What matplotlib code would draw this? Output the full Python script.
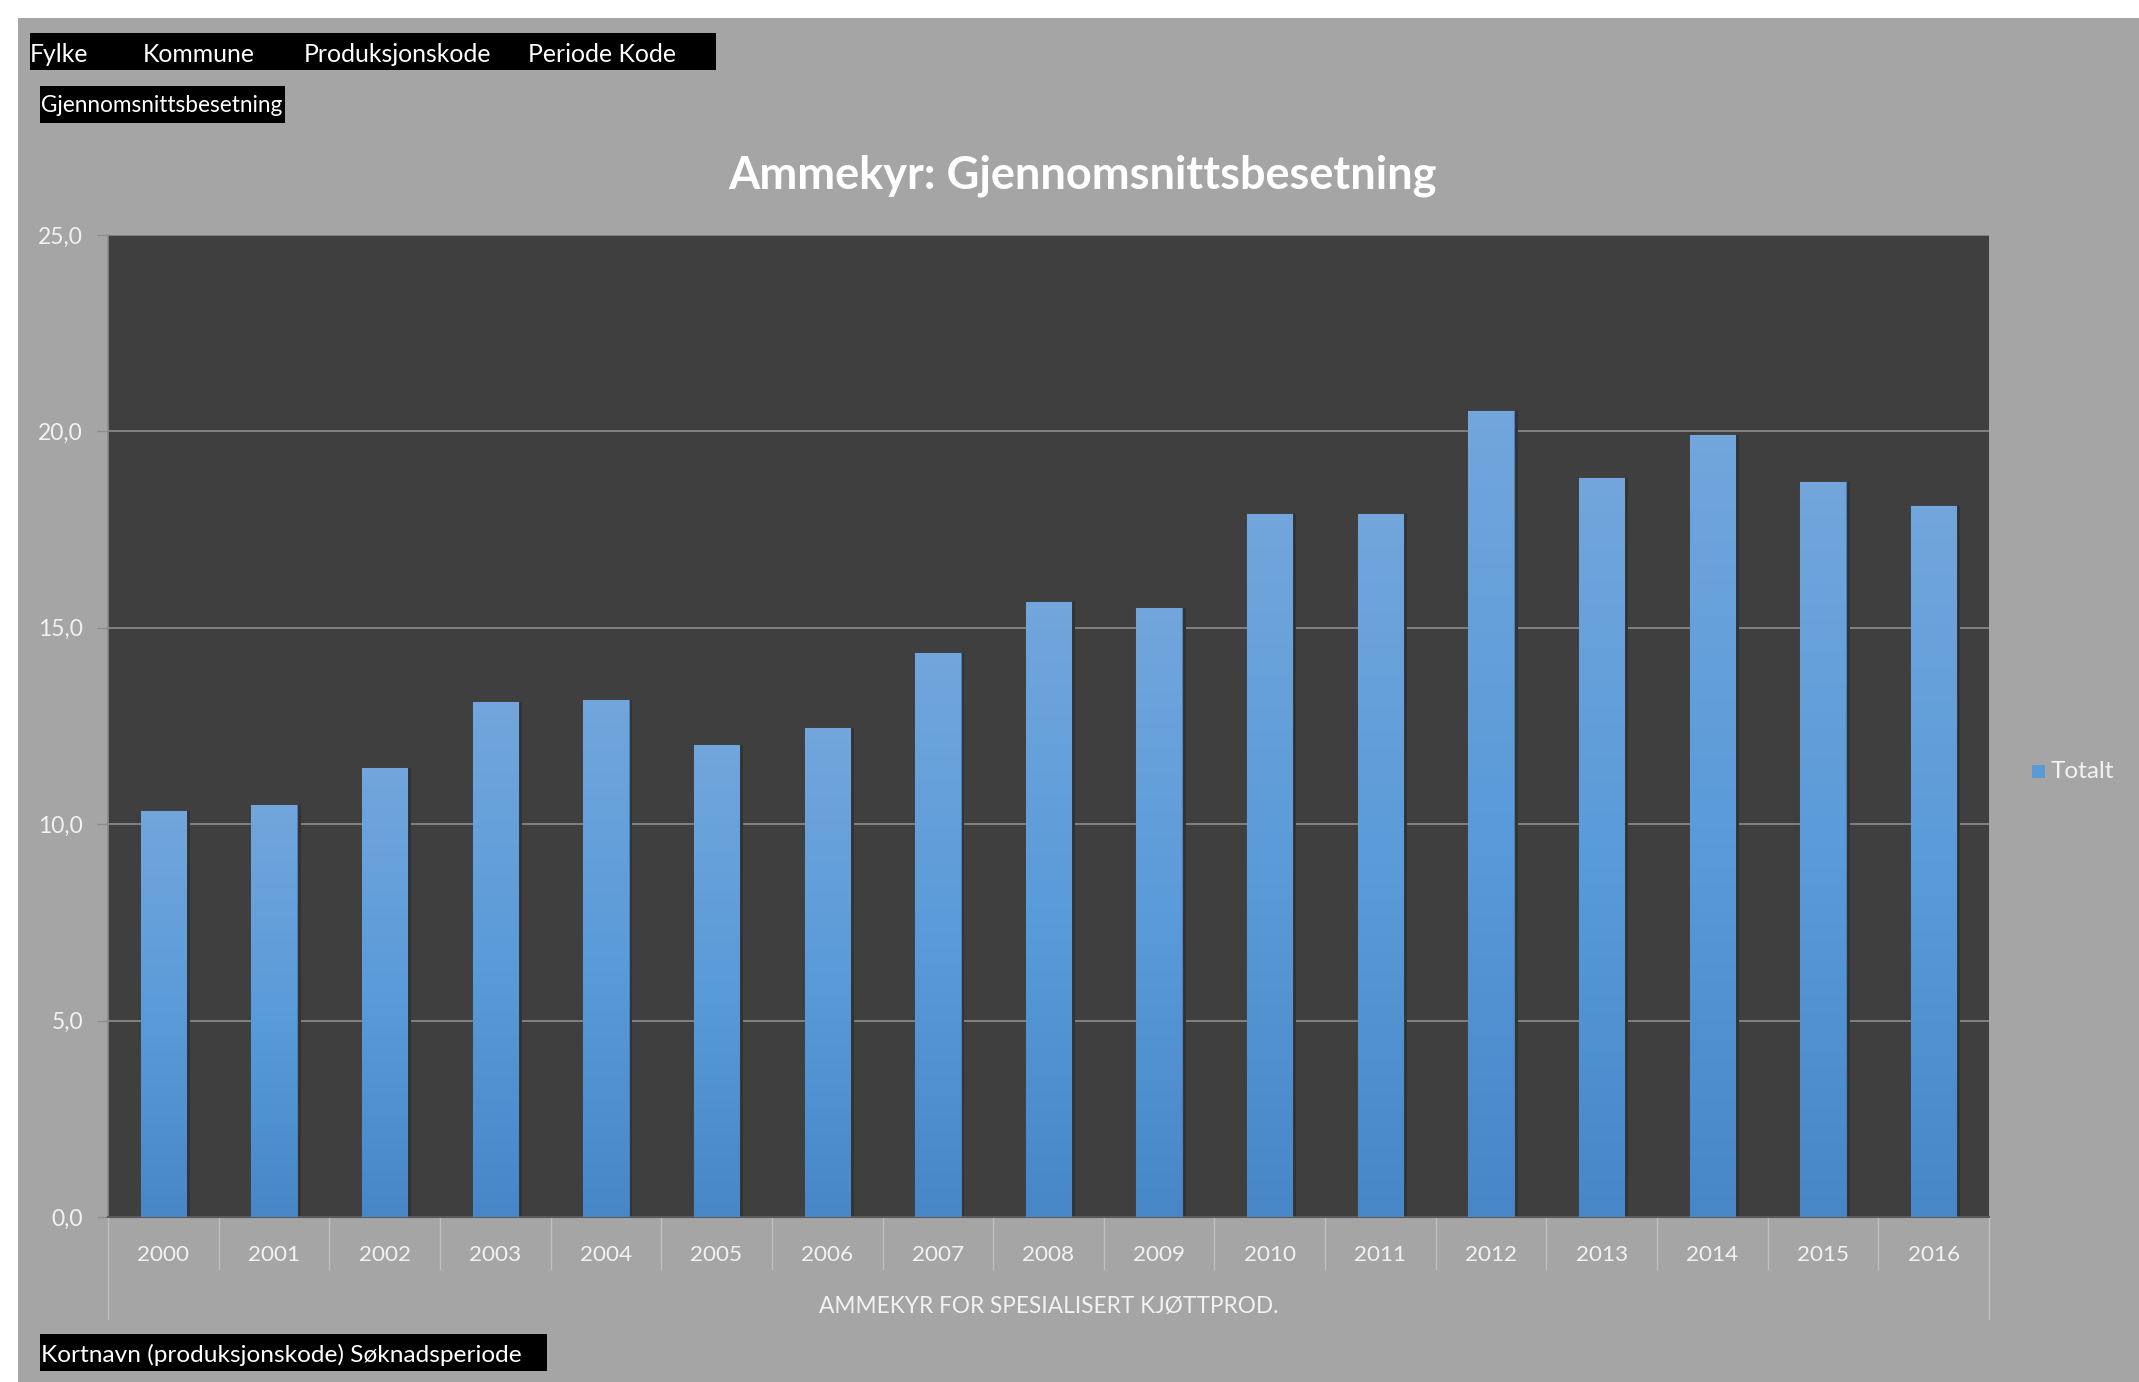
import matplotlib
matplotlib.use("Agg")
import matplotlib.pyplot as plt
import numpy as np
from matplotlib.patches import Rectangle
import matplotlib.transforms as mtransforms
from matplotlib.colors import LinearSegmentedColormap

plt.rcParams['font.family'] = ['Lato', 'DejaVu Sans']

# ---- data ----
years = ['2000', '2001', '2002', '2003', '2004', '2005', '2006', '2007', '2008',
         '2009', '2010', '2011', '2012', '2013', '2014', '2015', '2016']
values = [10.34, 10.49, 11.44, 13.10, 13.17, 12.02, 12.46, 14.37, 15.66,
          15.51, 17.90, 17.90, 20.51, 18.81, 19.90, 18.70, 18.09]
yticks = [0, 5, 10, 15, 20, 25]
ytick_labels = ['0,0', '5,0', '10,0', '15,0', '20,0', '25,0']
series_name = 'Totalt'
title = 'Ammekyr: Gjennomsnittsbesetning'
group_label = 'AMMEKYR FOR SPESIALISERT KJØTTPROD.'
header_fields = ['Fylke', 'Kommune', 'Produksjonskode', 'Periode Kode']
value_field = 'Gjennomsnittsbesetning'
axis_field = 'Kortnavn (produksjonskode) Søknadsperiode'

W, H = 2139, 1382
fig = plt.figure(figsize=(W / 100, H / 100), dpi=100, facecolor='white')

def fx(x):
    return x / W

def fy(y):
    return 1 - y / H

BG = '#a5a5a5'
fig.add_artist(Rectangle((fx(18), 0), 1 - fx(18), fy(18), transform=fig.transFigure,
                         facecolor=BG, edgecolor='none', zorder=0))

# header field buttons
fig.add_artist(Rectangle((fx(30), fy(70)), fx(716) - fx(30), fy(33) - fy(70),
                         transform=fig.transFigure, facecolor='black', edgecolor='none', zorder=1))
for txt, x in zip(header_fields, [30, 143, 304, 528]):
    fig.text(fx(x), fy(54), txt, color='white', fontsize=17.8, va='center', ha='left', zorder=2)

fig.add_artist(Rectangle((fx(40), fy(123)), fx(285) - fx(40), fy(86) - fy(123),
                         transform=fig.transFigure, facecolor='black', edgecolor='none', zorder=1))
fig.text(fx(41), fy(106), value_field, color='white', fontsize=16.3, va='center', ha='left', zorder=2)

fig.add_artist(Rectangle((fx(40), fy(1371)), fx(547) - fx(40), fy(1334) - fy(1371),
                         transform=fig.transFigure, facecolor='black', edgecolor='none', zorder=1))
fig.text(fx(41), fy(1355), axis_field, color='white', fontsize=17.6, va='center', ha='left', zorder=2)

# title
fig.text(fx(1082), fy(176), title, color='white', fontsize=32.5, fontweight='bold',
         ha='center', va='center', zorder=2)

# axes
ax = fig.add_axes([fx(108), fy(1217), fx(1989) - fx(108), fy(235) - fy(1217)])
ax.set_facecolor('#3f3f3f')
x = np.arange(len(years))
bw = 0.41

# soft shadow
ax.bar(x + 0.035, values, width=bw, color='#333333', zorder=2, linewidth=0)
bars = ax.bar(x, values, width=bw, color='#5b9bd5', edgecolor='#4a80b8', linewidth=0.8,
              zorder=3, label=series_name)

grad = np.linspace(0, 1, 256).reshape(-1, 1)
cmap = LinearSegmentedColormap.from_list('g', ['#4787c8', '#5a9bd9', '#72a6dc'])
for b in bars:
    bx, bwid, bh = b.get_x(), b.get_width(), b.get_height()
    im = ax.imshow(grad, extent=[bx, bx + bwid, 0, bh], origin='lower', cmap=cmap,
                   aspect='auto', zorder=3.5, vmin=0, vmax=1)
    im.set_clip_path(b)

ax.set_xlim(-0.5, len(years) - 0.5)
ax.set_ylim(0, 25)
ax.set_yticks(yticks)
ax.set_yticklabels(ytick_labels)
ax.grid(axis='y', color='#8c8c8c', linewidth=1.2, zorder=1)
ax.set_axisbelow(True)
ax.tick_params(axis='y', colors='#8c8c8c', length=8, width=1, labelcolor='#f2f2f2',
               labelsize=16.5, pad=10)
ax.tick_params(axis='x', length=0, labelbottom=False)
for s in ['top', 'right']:
    ax.spines[s].set_visible(False)
ax.spines['left'].set_color('#8c8c8c')
ax.spines['left'].set_linewidth(1.2)
ax.spines['bottom'].set_color('#595959')
ax.spines['bottom'].set_linewidth(1.5)

# multilevel category axis
trans = mtransforms.blended_transform_factory(ax.transData, ax.transAxes)
ph = 1217 - 235
for i, yr in enumerate(years):
    ax.text(i, -38 / ph, yr, transform=trans, ha='center', va='center', color='#f2f2f2',
            fontsize=16.2, clip_on=False)
for k in range(1, len(years)):
    ax.plot([k - 0.5, k - 0.5], [0, -52 / ph], transform=trans, color='#bfbfbf',
            linewidth=1, clip_on=False)
for edge in [-0.5, len(years) - 0.5]:
    ax.plot([edge, edge], [0, -102 / ph], transform=trans, color='#bfbfbf',
            linewidth=1, clip_on=False)
ax.text((len(years) - 1) / 2, -89 / ph, group_label, transform=trans, ha='center',
        va='center', color='#f2f2f2', fontsize=16.3, clip_on=False)

# legend
fig.add_artist(Rectangle((fx(2032), fy(778)), fx(13), 13 / H, transform=fig.transFigure,
                         facecolor='#5b9bd5', edgecolor='none', zorder=2))
fig.text(fx(2051), fy(772), series_name, color='#f2f2f2', fontsize=17.6, va='center',
         ha='left', zorder=2)

fig.savefig('out.png', dpi=100, facecolor=fig.get_facecolor())
